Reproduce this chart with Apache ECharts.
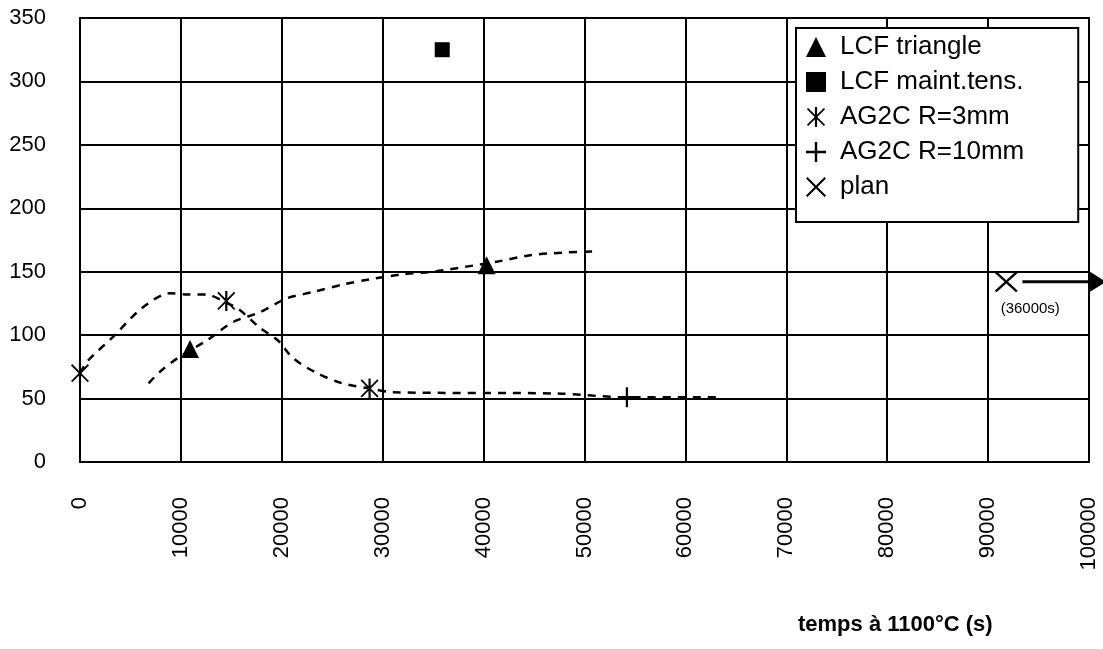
<!DOCTYPE html>
<html lang="fr">
<head>
    <meta charset="UTF-8">
    <title>temps à 1100°C</title>
    <script src="https://cdn.jsdelivr.net/npm/echarts@6/dist/echarts.min.js"></script>
    <style>
        html, body { margin: 0; padding: 0; background: #fff; }
        #chart { width: 1103px; height: 649px; }
    </style>
</head>
<body>
<div id="chart"></div>
<script type="text/javascript">
    // points mesurés
    var lcfTriangle = [[10900, 89], [40300, 155]];
    var lcfMaint = [[35900, 325]];
    var ag2c3 = [[0, 70], [14500, 127], [28700, 58]];
    var ag2c10 = [[54200, 51]];
    var plan = [[91800, 142]];
    var planArrow = [[93400, 142], [100900, 142]];

    // courbes de tendance (pointillés)
    var curveAg2c = [[0, 70], [800, 80], [3200, 98], [6100, 121], [8900, 133], [10700, 132],
        [12500, 132], [14400, 126], [15800, 120], [17800, 106], [19600, 96], [21100, 82],
        [23500, 70], [26000, 62], [28700, 58], [31000, 55], [47200, 54], [54200, 51], [63400, 51]];
    var curveLcf = [[6800, 62], [7900, 71], [9700, 82], [12600, 96], [15100, 110], [17800, 118],
        [20500, 129], [23100, 134], [26100, 140], [28700, 144], [32000, 148], [35000, 150],
        [38300, 154], [41400, 158], [44600, 163], [47800, 165], [51000, 166]];

    var xTicks = [0, 10000, 20000, 30000, 40000, 50000, 60000, 70000, 80000, 90000, 100000];
    var yTicks = [0, 50, 100, 150, 200, 250, 300, 350];

    var legendNames = ['LCF triangle', 'LCF maint.tens.', 'AG2C R=3mm', 'AG2C R=10mm', 'plan'];

    // symboles dessinés comme polygones pleins
    var plusPath = 'path://M-1.2,-10 L1.2,-10 L1.2,-1.2 L10,-1.2 L10,1.2 L1.2,1.2 L1.2,10 L-1.2,10 L-1.2,1.2 L-10,1.2 L-10,-1.2 L-1.2,-1.2 Z';
    var crossPath = 'path://M-10,-8.5 L-8.5,-10 L0,-1.5 L8.5,-10 L10,-8.5 L1.5,0 L10,8.5 L8.5,10 L0,1.5 L-8.5,10 L-10,8.5 L-1.5,0 Z';
    var starPath = 'path://M-10,-8.6 L-8.6,-10 L0,-1.4 L8.6,-10 L10,-8.6 L1.4,0 L10,8.6 L8.6,10 L0,1.4 L-8.6,10 L-10,8.6 L-1.4,0 Z ' +
        'M-1.2,-11 L1.2,-11 L1.2,11 L-1.2,11 Z';

    var font = '"Liberation Sans", Arial, sans-serif';
    var myChart = echarts.init(document.getElementById('chart'));

    var dashed = {
        type: 'line', smooth: 0.3, symbol: 'none', silent: true, z: 3,
        lineStyle: { color: '#000', width: 2.5, type: [8, 7] }
    };

    myChart.setOption({
        animation: false,
        backgroundColor: '#fff',
        textStyle: { fontFamily: font },
        title: {
            text: 'temps à 1100°C (s)',
            left: 798, top: 614, padding: 0,
            textStyle: { fontFamily: font, fontSize: 22, fontWeight: 'bold', color: '#000' }
        },
        grid: {
            left: 80, right: 14, top: 18, bottom: 187,
            show: true, borderColor: '#000', borderWidth: 2, backgroundColor: '#fff'
        },
        legend: {
            data: legendNames,
            orient: 'vertical',
            left: 796, top: 28,
            padding: [6, 54, 22, 10],
            itemWidth: 20, itemHeight: 20, itemGap: 9,
            backgroundColor: '#fff', borderColor: '#000', borderWidth: 2,
            textStyle: { fontFamily: font, fontSize: 26, color: '#000', padding: [0, 0, 0, 9] }
        },
        xAxis: {
            type: 'value', min: xTicks[0], max: xTicks[xTicks.length - 1], interval: 10000,
            axisLine: { show: true, lineStyle: { color: '#000', width: 2 } },
            axisTick: { show: false },
            splitLine: { show: true, lineStyle: { color: '#000', width: 2 } },
            axisLabel: {
                rotate: 90, margin: 35, fontSize: 22, color: '#000', fontFamily: font,
                formatter: function (v) { return String(v); }
            }
        },
        yAxis: {
            type: 'value', min: yTicks[0], max: yTicks[yTicks.length - 1], interval: 50,
            axisLine: { show: true, lineStyle: { color: '#000', width: 2 } },
            axisTick: { show: false },
            splitLine: { show: true, lineStyle: { color: '#000', width: 2 } },
            axisLabel: { margin: 34, fontSize: 22, color: '#000', fontFamily: font }
        },
        series: [
            Object.assign({ name: 'fit AG2C', data: curveAg2c }, dashed),
            Object.assign({ name: 'fit LCF', data: curveLcf }, dashed),
            {
                name: 'plan arrow', type: 'line', clip: false, silent: true, z: 4,
                data: [
                    { value: planArrow[0], symbol: 'none' },
                    { value: planArrow[1], symbol: 'triangle', symbolSize: [20, 16], symbolRotate: -90 }
                ],
                lineStyle: { color: '#000', width: 3 },
                itemStyle: { color: '#000' }
            },
            {
                name: 'LCF triangle', type: 'scatter', data: lcfTriangle, z: 5,
                symbol: 'triangle', symbolSize: [18, 18],
                itemStyle: { color: '#000', opacity: 1 }
            },
            {
                name: 'LCF maint.tens.', type: 'scatter', data: lcfMaint, z: 5,
                symbol: 'rect', symbolSize: 15,
                itemStyle: { color: '#000', opacity: 1 }
            },
            {
                name: 'AG2C R=3mm', type: 'scatter', data: ag2c3, z: 5,
                symbol: starPath, symbolSize: [18, 20],
                itemStyle: { color: '#000', opacity: 1 }
            },
            {
                name: 'AG2C R=10mm', type: 'scatter', data: ag2c10, z: 5,
                symbol: plusPath, symbolSize: [18, 20],
                itemStyle: { color: '#000', opacity: 1 }
            },
            {
                name: 'plan', type: 'scatter', data: plan, z: 5, clip: false,
                symbol: crossPath, symbolSize: [23, 21],
                itemStyle: { color: '#000', opacity: 1 },
                label: {
                    show: true, position: 'bottom', distance: 9, offset: [24, 0],
                    formatter: '(36000s)', fontSize: 15, color: '#000', fontFamily: font
                }
            }
        ]
    });
</script>
</body>
</html>
